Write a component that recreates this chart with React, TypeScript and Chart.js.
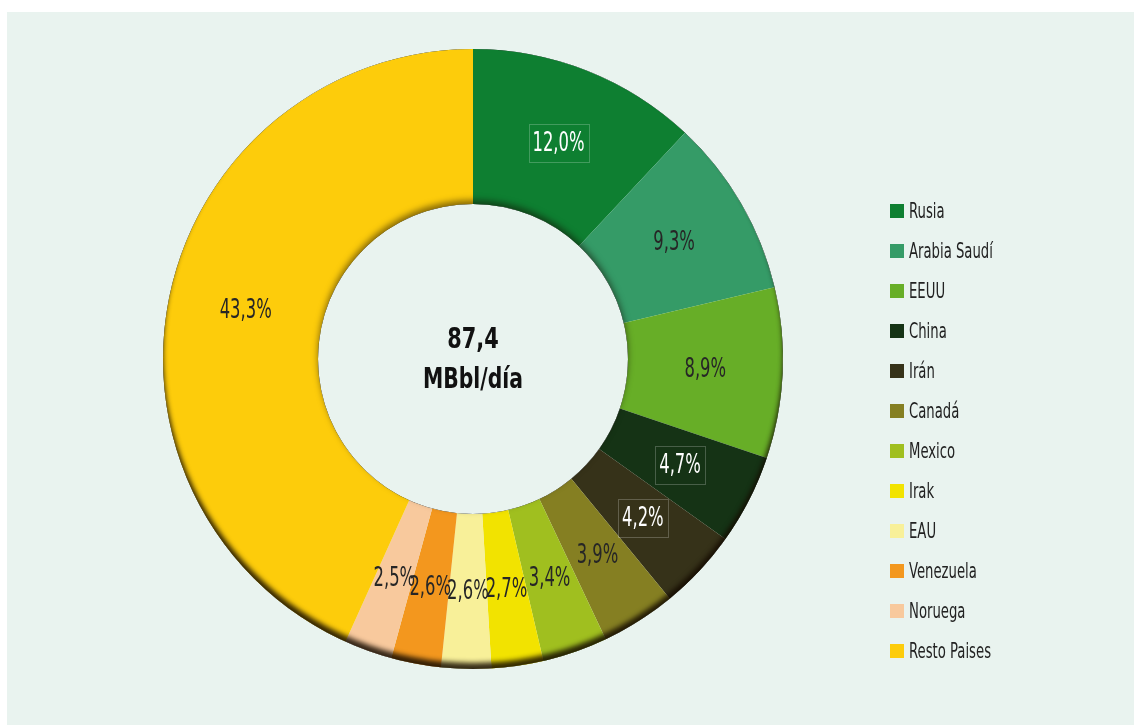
import React, { useEffect, useRef } from "react";
import { Chart, registerables } from "chart.js";

Chart.register(...registerables);

const categories = [
  "Rusia",
  "Arabia Saudí",
  "EEUU",
  "China",
  "Irán",
  "Canadá",
  "Mexico",
  "Irak",
  "EAU",
  "Venezuela",
  "Noruega",
  "Resto Paises",
];
const shares = [12.0, 9.3, 8.9, 4.7, 4.2, 3.9, 3.4, 2.7, 2.6, 2.6, 2.5, 43.3];
const colors = [
  "#0e7f31",
  "#359b67",
  "#67ae27",
  "#153315",
  "#363219",
  "#857f22",
  "#a0bf1f",
  "#f2e300",
  "#f8f099",
  "#f3971e",
  "#f8c99d",
  "#fdcc0b",
];
const whiteLabels = [true, false, false, true, true, false, false, false, false, false, false, false];
const centerLines = ["87,4", "MBbl/día"];

const FONT = '"Liberation Sans Narrow", "DejaVu Sans Condensed", "Roboto", sans-serif';
const BG = "#e9f3ef";

const fmt = (v: number) => v.toFixed(1).replace(".", ",") + "%";

const insetShadow = {
  id: "insetShadow",
  afterDatasetDraw(chart: any) {
    const meta = chart.getDatasetMeta(0);
    const arc = meta.data[0];
    if (!arc) return;
    const { x, y, innerRadius, outerRadius } = arc as any;
    const ctx = chart.ctx;
    const clipRing = () => {
      ctx.beginPath();
      ctx.arc(x, y, outerRadius, 0, Math.PI * 2);
      ctx.moveTo(x + innerRadius, y);
      ctx.arc(x, y, innerRadius, 0, Math.PI * 2, true);
      ctx.clip();
    };
    // outer edge shadow
    ctx.save();
    clipRing();
    ctx.beginPath();
    const m = outerRadius + 200;
    ctx.rect(x - m, y - m, 2 * m, 2 * m);
    ctx.moveTo(x + outerRadius, y);
    ctx.arc(x, y, outerRadius, 0, Math.PI * 2, true);
    ctx.shadowColor = "rgba(20,10,0,0.85)";
    ctx.shadowBlur = 5;
    ctx.shadowOffsetY = -6;
    ctx.fillStyle = "#000";
    ctx.fill();
    ctx.restore();
    // inner edge shadow (softer)
    ctx.save();
    clipRing();
    ctx.beginPath();
    ctx.arc(x, y, innerRadius, 0, Math.PI * 2);
    ctx.shadowColor = "rgba(20,10,0,0.5)";
    ctx.shadowBlur = 6;
    ctx.shadowOffsetY = -4;
    ctx.fillStyle = "#000";
    ctx.fill();
    ctx.restore();
  },
};

const labelsPlugin = {
  id: "sliceLabels",
  afterDatasetsDraw(chart: any) {
    const ctx = chart.ctx;
    const meta = chart.getDatasetMeta(0);
    ctx.save();
    ctx.font = `26px ${FONT}`;
    ctx.textAlign = "center";
    ctx.textBaseline = "middle";
    const sx = 0.7;
    meta.data.forEach((el: any, i: number) => {
      const p = el.tooltipPosition();
      const txt = fmt(shares[i]);
      const w = ctx.measureText(txt).width * sx;
      if (whiteLabels[i]) {
        ctx.strokeStyle = "rgba(255,255,255,0.22)";
        ctx.lineWidth = 1;
        ctx.strokeRect(Math.round(p.x - w / 2 - 4) + 0.5, Math.round(p.y - 19) + 0.5, Math.round(w + 8), 38);
        ctx.fillStyle = "#ffffff";
      } else {
        ctx.fillStyle = "#262626";
      }
      ctx.save();
      ctx.translate(p.x, p.y + 1);
      ctx.scale(sx, 1);
      ctx.fillText(txt, 0, 0);
      ctx.restore();
    });
    // centre text
    const a = meta.data[0];
    if (a) {
      ctx.fillStyle = "#111";
      ctx.font = `bold 29px ${FONT}`;
      ctx.save();
      ctx.translate(a.x, a.y - 19);
      ctx.scale(0.8, 1);
      ctx.fillText(centerLines[0], 0, 0);
      ctx.restore();
      ctx.save();
      ctx.translate(a.x, a.y + 21);
      ctx.scale(0.78, 1);
      ctx.fillText(centerLines[1], 0, 0);
      ctx.restore();
    }
    ctx.restore();
  },
};

export default function App() {
  const ref = useRef<HTMLCanvasElement | null>(null);
  useEffect(() => {
    document.body.style.margin = "0";
    document.body.style.background = "#ffffff";
    const chart = new Chart(ref.current as HTMLCanvasElement, {
      type: "doughnut",
      data: {
        labels: categories,
        datasets: [
          {
            data: shares,
            backgroundColor: colors,
            borderWidth: 0,
          },
        ],
      },
      options: {
        responsive: false,
        animation: false,
        cutout: "50%",
        layout: { padding: { left: 156, top: 37, right: 351, bottom: 56 } },
        plugins: {
          legend: { display: false },
          tooltip: { enabled: false },
        },
      },
      plugins: [insetShadow, labelsPlugin],
    });
    return () => chart.destroy();
  }, []);

  return (
    <div
      style={{
        position: "absolute",
        left: 7,
        top: 12,
        width: 1127,
        height: 713,
        background: BG,
        overflow: "hidden",
      }}
    >
      <canvas ref={ref} width={1127} height={713} style={{ position: "absolute", left: 0, top: 0 }} />
      {categories.map((c, i) => (
        <div
          key={c}
          style={{
            position: "absolute",
            left: 883,
            top: 192 + i * 40,
            height: 14,
            display: "flex",
            alignItems: "center",
            whiteSpace: "nowrap",
          }}
        >
          <span style={{ width: 14, height: 14, background: colors[i], display: "inline-block" }} />
          <span
            style={{
              marginLeft: 5,
              fontFamily: FONT,
              fontSize: 21,
              color: "#222",
              display: "inline-block",
              transform: "scaleX(0.7)",
              transformOrigin: "left center",
              lineHeight: "14px",
            }}
          >
            {c}
          </span>
        </div>
      ))}
    </div>
  );
}
